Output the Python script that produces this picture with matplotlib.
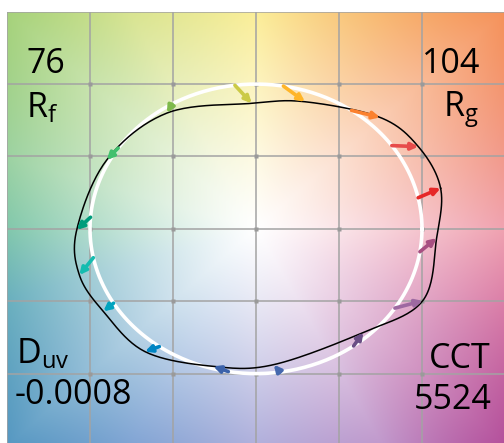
import numpy as np
import matplotlib
matplotlib.use('Agg')
import matplotlib.pyplot as plt
from matplotlib.colors import to_rgb

# TM-30 colour vector graphic
rf_value = '76'
rg_value = '104'
duv_value = '-0.0008'
cct_value = '5524'

bin_colors = ['#e62828', '#e74b4b', '#fb812e', '#ffb529', '#cbca46', '#7eb94c',
              '#41c06d', '#009c7c', '#16bcb0', '#00a4bf', '#0085c3', '#3b62aa',
              '#4568ae', '#6a4e85', '#9d69a1', '#a74f81']

# reference hue angle per bin (deg), arrows start on the unit circle
ref_angle = [12.4, 35.1, 54.9, 80.5, 97.3, 120.4, 146.1, 175.4,
             191.5, 210.9, 234.4, 260.4, 278.3, 306.0, 326.8, 350.9]

# test source, normalised a' / b' per bin
test_x = [1.112, 0.978, 0.747, 0.295, -0.026, -0.536, -0.899, -1.080,
          -1.064, -0.920, -0.669, -0.257, 0.107, 0.647, 1.004, 1.088]
test_y = [0.281, 0.568, 0.770, 0.878, 0.867, 0.800, 0.476, -0.007,
          -0.319, -0.570, -0.848, -0.950, -0.938, -0.715, -0.497, -0.064]

grid_ticks = [-1.5, -1.0, -0.5, 0.0, 0.5, 1.0, 1.5]

# background colour at the plot border, by hue angle
bg_angle = [0, 18, 45, 63, 90, 117, 135, 162, 180, 198, 225, 243, 270, 297, 315, 342, 360]
bg_color = ['#f0a2b0', '#f29a8c', '#f5925a', '#f8b870', '#fbee98', '#d8e490',
            '#a6d27a', '#9cd2a2', '#82c8ac', '#6ab0be', '#5698c2', '#80a4d4',
            '#b0b0dc', '#c098cc', '#b4509c', '#dc80a8', '#f0a2b0']


def closed_spline(x, y, n=24):
    """Closed Catmull-Rom curve through the points"""
    P = np.column_stack([x, y])
    m = len(P)
    t = np.linspace(0, 1, n, endpoint=False)[:, None]
    out = []
    for i in range(m):
        p0, p1, p2, p3 = P[i - 1], P[i], P[(i + 1) % m], P[(i + 2) % m]
        out.append(0.5 * (2 * p1 + (-p0 + p2) * t
                          + (2 * p0 - 5 * p1 + 4 * p2 - p3) * t ** 2
                          + (-p0 + 3 * p1 - 3 * p2 + p3) * t ** 3))
    out = np.vstack(out + [P[:1]])
    return out[:, 0], out[:, 1]


W, H = 504, 443
fig = plt.figure(figsize=(W / 100, H / 100), dpi=100)
ax = fig.add_axes([7 / W, -3 / H, 498 / W, 434.3 / H])
ax.set_xlim(-1.5, 1.5)
ax.set_ylim(-1.5, 1.5)
ax.axis('off')

# background
n = 500
xs = np.linspace(-1.5, 1.5, n)
X, Y = np.meshgrid(xs, xs[::-1])
R = np.hypot(X, Y)
T = np.degrees(np.arctan2(Y, X)) % 360
rb = 1.5 / np.maximum(np.abs(np.cos(np.radians(T))), np.abs(np.sin(np.radians(T))))
s = np.clip(R / rb, 0, 1) ** 1.15
rgb = np.array([to_rgb(c) for c in bg_color])
img = np.empty((n, n, 3))
for k in range(3):
    edge = np.interp(T, bg_angle, rgb[:, k])
    img[..., k] = 1 - (1 - edge) * s
ax.imshow(img, extent=[-1.5, 1.5, -1.5, 1.5], origin='upper', aspect='auto',
          interpolation='bilinear', zorder=0)

# grid
for g in grid_ticks:
    ax.axvline(g, color='#a3a3a3', lw=1.1, zorder=1)
    ax.axhline(g, color='#a3a3a3', lw=1.1, zorder=1)
inner = [g for g in grid_ticks if abs(g) < 1.5]
gx, gy = np.meshgrid(inner, inner)
ax.plot(gx.ravel(), gy.ravel(), 's', color='#9a9a9a', ms=2.8, mec='none', zorder=1)

# reference circle
th = np.linspace(0, 2 * np.pi, 400)
ax.plot(np.cos(th), np.sin(th), color='white', lw=2.6, zorder=2)

# test curve
cx, cy = closed_spline(test_x, test_y)
ax.plot(cx, cy, color='black', lw=1.1, zorder=3)

# arrows
for a, tx, ty, c in zip(ref_angle, test_x, test_y, bin_colors):
    x0, y0 = np.cos(np.radians(a)), np.sin(np.radians(a))
    ax.annotate('', xy=(tx, ty), xytext=(x0, y0),
                arrowprops=dict(arrowstyle='-|>,head_length=0.5,head_width=0.25',
                                color=c, lw=2.6, mutation_scale=8,
                                shrinkA=0, shrinkB=0, capstyle='round'),
                zorder=4)

# labels
plt.rcParams['mathtext.fontset'] = 'custom'
plt.rcParams['mathtext.rm'] = 'Open Sans'
fs = 24.5


def label(px, py, s, ha):
    fig.text(px / W, 1 - py / H, s, ha=ha, va='baseline', fontsize=fs,
             family='Open Sans', color='black')


label(26, 73, rf_value, 'left')
label(26, 117, r'$\mathrm{R_f}$', 'left')
label(480, 73, rg_value, 'right')
label(479, 117, r'$\mathrm{R_g}$', 'right')
label(16, 363, r'$\mathrm{D_{uv}}$', 'left')
label(15, 404, duv_value, 'left')
label(491, 368, 'CCT', 'right')
label(492, 409, cct_value, 'right')

fig.savefig('out.png', dpi=100)
